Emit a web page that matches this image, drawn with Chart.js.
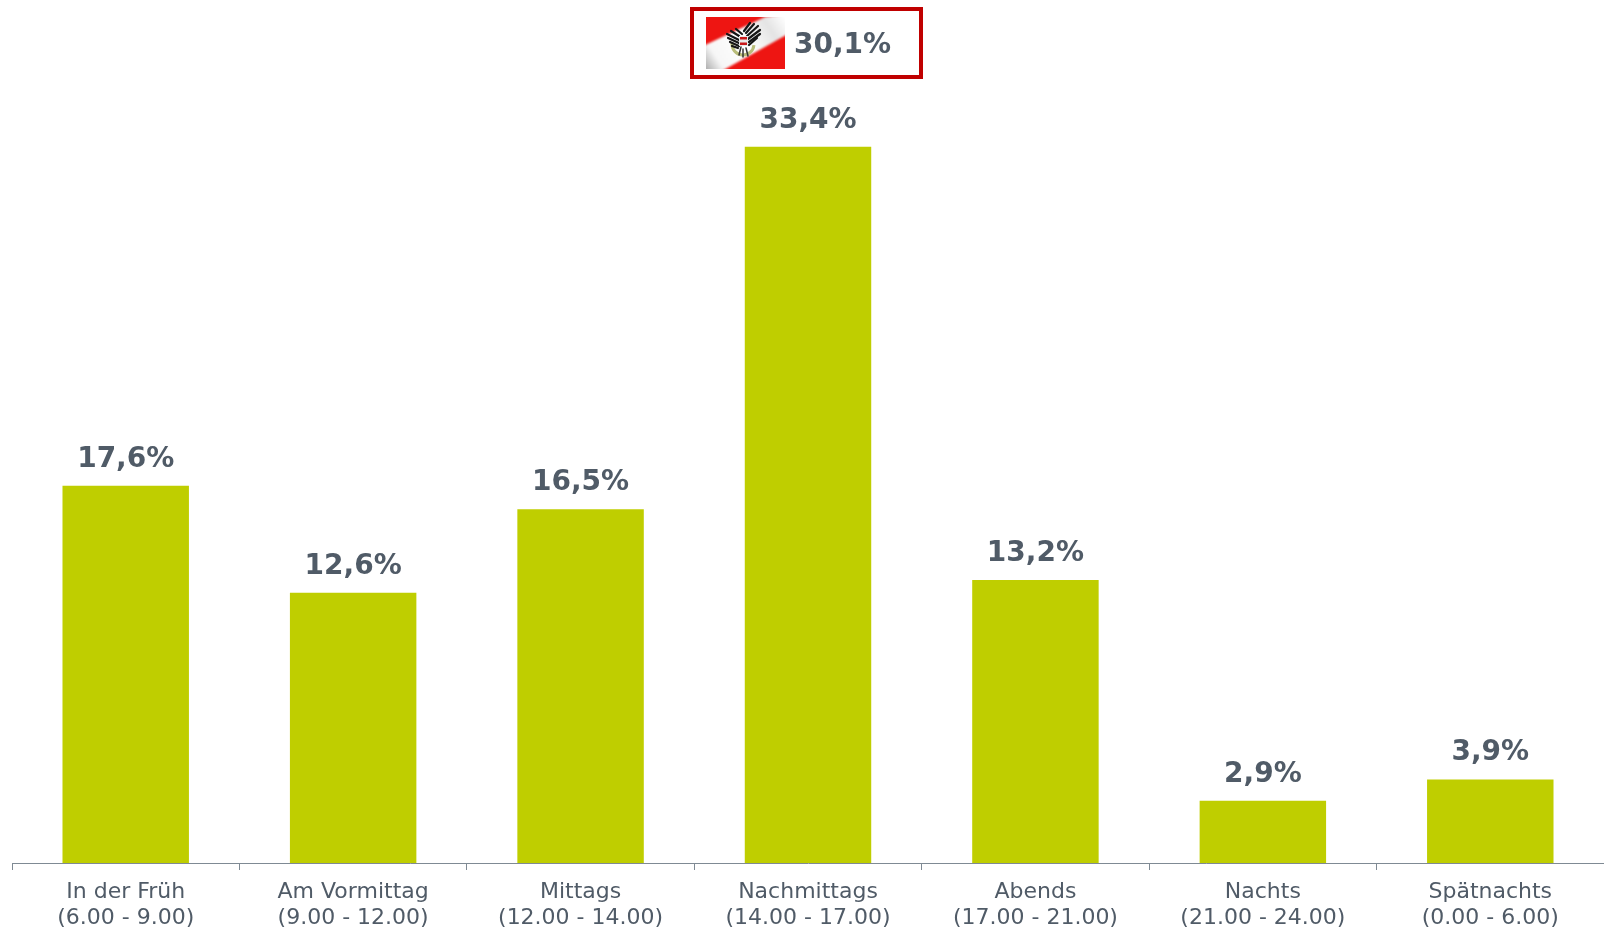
<!DOCTYPE html>
<html><head><meta charset="utf-8">
<script src="https://cdn.jsdelivr.net/npm/chart.js@4"></script>
<style>html,body{margin:0;padding:0;background:#fff;overflow:hidden}#w{position:relative;width:1604px;height:930px}canvas{display:block}</style>
</head><body><div id="w"><canvas id="c" width="1604" height="930"></canvas></div>
<script>
const categories = [
  ["In der Früh","(6.00 - 9.00)"],
  ["Am Vormittag","(9.00 - 12.00)"],
  ["Mittags","(12.00 - 14.00)"],
  ["Nachmittags","(14.00 - 17.00)"],
  ["Abends","(17.00 - 21.00)"],
  ["Nachts","(21.00 - 24.00)"],
  ["Spätnachts","(0.00 - 6.00)"]
];
const shares = [17.6, 12.6, 16.5, 33.4, 13.2, 2.9, 3.9];
const calloutLabel = "30,1%";
const FONT = '"DejaVu Sans", Verdana, sans-serif';
const TEXT = '#505b67';
const fmt = v => v.toFixed(1).replace('.', ',') + '%';

const valueLabels = {
  id:'valueLabels',
  afterDatasetsDraw(ch){
    const c = ch.ctx; c.save();
    c.font = 'bold 28px ' + FONT; c.fillStyle = TEXT; c.textAlign='center'; c.textBaseline='alphabetic';
    ch.getDatasetMeta(0).data.forEach((b,i)=>c.fillText(fmt(shares[i]), b.x, b.y-19));
    c.restore();
  }
};
const callout = {
  id:'callout',
  afterDraw(ch){
    const c = ch.ctx; c.save();
    c.strokeStyle='#c00000'; c.lineWidth=4; c.strokeRect(692,9,229,68);
    const x=706,y=17,w=79,h=52;
    c.fillStyle='#ee1512';c.fillRect(x,y,w,h);
    c.save();c.beginPath();c.rect(x,y,w,h);c.clip();
    const s=c.createLinearGradient(x,y+h,x+w,y);
    s.addColorStop(0,'#b0b0b0');s.addColorStop(.16,'#f6f6f6');s.addColorStop(.5,'#ffffff');s.addColorStop(.8,'#e4e4e4');s.addColorStop(1,'#ffffff');
    c.fillStyle=s;c.filter='blur(1px)';c.beginPath();
    c.moveTo(x-3,y+29);c.lineTo(x+59,y);c.lineTo(x+w+3,y-3);c.lineTo(x+w+3,y+17);c.lineTo(x+14,y+h+3);c.lineTo(x-3,y+h+3);c.closePath();c.fill();
    c.filter='none';
    c.restore();
    // coat of arms: wreath, wings with feather streaks, shield
    c.strokeStyle='#b9bd7a';c.lineWidth=3;c.beginPath();c.arc(x+37,y+27,11,0.1,Math.PI*1.05);c.stroke();
    c.strokeStyle='#161616';c.lineWidth=2.2;c.lineCap='round';
    [[21,17,33,23],[22,21,33,26],[24,25,33,29],[26,29,32,31],[25,14,33,19],[30,12,36,17],
     [54,13,42,22],[54,17,43,25],[52,9,41,19],[48,7,40,16],[51,21,43,28],[44,6,38,14]]
      .forEach(f=>{c.beginPath();c.moveTo(x+f[0],y+f[1]);c.lineTo(x+f[2],y+f[3]);c.stroke();});
    c.strokeStyle='#333';c.lineWidth=1.5;
    [[35,30,33,38],[40,31,42,39],[37,32,37,40]].forEach(f=>{c.beginPath();c.moveTo(x+f[0],y+f[1]);c.lineTo(x+f[2],y+f[3]);c.stroke();});
    c.fillStyle='#e9e9e9';c.fillRect(x+33,y+19,9,10);
    c.fillStyle='#c8181a';c.fillRect(x+34,y+20,7,2.5);c.fillRect(x+34,y+25.5,7,2.5);
    c.fillStyle=TEXT;c.font='bold 28px '+FONT;c.textAlign='left';c.textBaseline='alphabetic';
    c.fillText(calloutLabel,794,53);
    c.restore();
  }
};
new Chart(document.getElementById('c'),{
  type:'bar',
  data:{labels:categories,datasets:[{data:shares,backgroundColor:'#bfce00',barPercentage:0.556,categoryPercentage:1}]},
  options:{
    responsive:false,animation:false,
    layout:{padding:{left:12,right:0,top:0,bottom:0}},
    plugins:{legend:{display:false},tooltip:{enabled:false}},
    scales:{
      x:{
        offset:true,
        afterFit(s){s.height=67;},
        border:{color:'#7f8a94',width:1},
        grid:{display:true,drawOnChartArea:false,drawTicks:true,tickLength:7,color:'#7f8a94',offset:true},
        ticks:{color:TEXT,font:{family:FONT,size:22,lineHeight:1.2},padding:9,maxRotation:0,autoSkip:false}
      },
      y:{display:false,min:0,max:40.25}
    }
  },
  plugins:[valueLabels,callout]
});
</script></body></html>
